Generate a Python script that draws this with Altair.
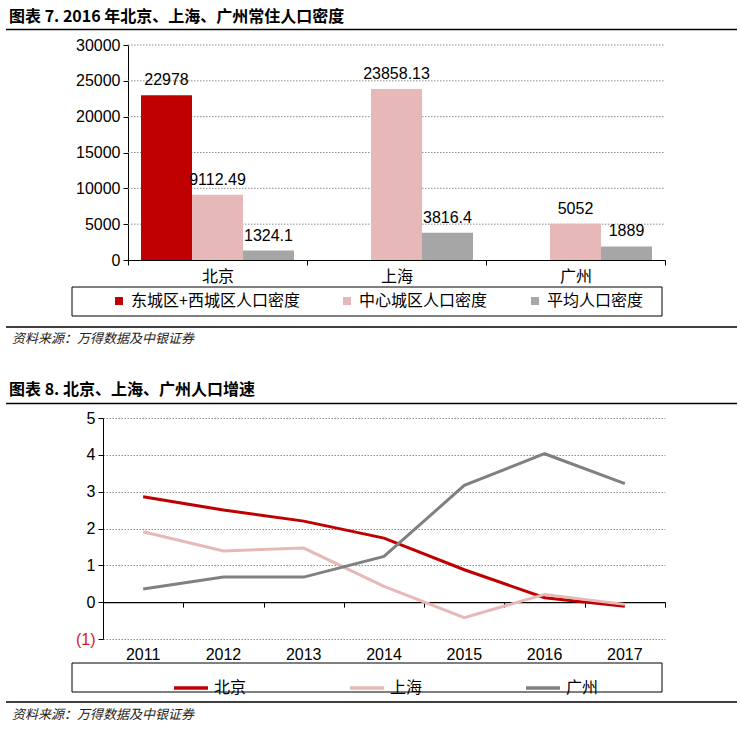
import altair as alt
import pandas as pd

# ---------------- data: chart 7 ----------------
cities = ['北京', '上海', '广州']
series7 = ['东城区+西城区人口密度', '中心城区人口密度', '平均人口密度']
core_density = [22978, None, None]
central_density = [9112.49, 23858.13, 5052]
average_density = [1324.1, 3816.4, 1889]
density_ticks = [0, 5000, 10000, 15000, 20000, 25000, 30000]
colors7 = ['#C00000', '#E6B9B8', '#A6A6A6']

# ---------------- data: chart 8 ----------------
years = ['2011', '2012', '2013', '2014', '2015', '2016', '2017']
cities8 = ['北京', '上海', '广州']
growth_bj = [2.86, 2.50, 2.20, 1.74, 0.88, 0.12, -0.11]
growth_sh = [1.91, 1.39, 1.47, 0.43, -0.42, 0.21, -0.06]
growth_gz = [0.36, 0.68, 0.68, 1.24, 3.17, 4.03, 3.22]
growth_ticks = [-1, 0, 1, 2, 3, 4, 5]
colors8 = ['#C00000', '#E6B9B8', '#808080']

title7 = '图表 7. 2016 年北京、上海、广州常住人口密度'
title8 = '图表 8. 北京、上海、广州人口增速'
source_text = '资料来源：万得数据及中银证券'

# ---------------- tables ----------------
rows7 = []
for s, vals in zip(series7, [core_density, central_density, average_density]):
    for c, v in zip(cities, vals):
        if v is not None:
            rows7.append({'city': c, 'series': s, 'value': v, 'label': str(v)})
df7 = pd.DataFrame(rows7)
grid7 = pd.DataFrame({'value': density_ticks[1:]})

rows8 = []
for c, vals in zip(cities8, [growth_bj, growth_sh, growth_gz]):
    for y, v in zip(years, vals):
        rows8.append({'city': c, 'year': y, 'growth': v})
df8 = pd.DataFrame(rows8)

one = pd.DataFrame({'k': [0]})

NUM = 'Liberation Sans Narrow, Arial Narrow, Liberation Sans, Arial'
CJK = 'Noto Sans CJK SC'
W = 562
H1 = 215
H2 = 221
OFF = 25


def deco(df_, x, y, txt, **kw):
    return alt.Chart(df_).mark_text(align='left', baseline='middle', **kw).encode(
        x=alt.value(x), y=alt.value(y), text=alt.value(txt))


def hrule(x1, x2, y):
    return alt.Chart(one).mark_rule(color='black', strokeWidth=1.5).encode(
        x=alt.value(x1), x2=alt.value(x2), y=alt.value(y))


# ================= chart 7 =================
yscale1 = alt.Scale(domain=[0, 30000], nice=False)
xscale1 = alt.Scale(domain=cities, range=[OFF, W], paddingInner=0, paddingOuter=0)
xoff1 = alt.XOffset('series:N', scale=alt.Scale(domain=series7, paddingInner=0, paddingOuter=0.255))

x1 = alt.X('city:N', scale=xscale1, axis=alt.Axis(
    title=None, labelAngle=0, domainColor='black', domainWidth=1, tickColor='black',
    tickSize=5, tickBand='extent', labelFont=CJK, labelFontSize=16, labelColor='black',
    labelPadding=3, grid=False))
y1 = alt.Y('value:Q', scale=yscale1, axis=alt.Axis(
    title=None, values=density_ticks, offset=-OFF, domainColor='black', tickColor='black',
    tickSize=5, labelFont=NUM, labelFontSize=16, labelColor='black', labelPadding=3,
    grid=False, format='d'))

bg1 = alt.Chart(one).mark_rect(color='white', opacity=0).encode(
    x=alt.value(-103), x2=alt.value(637), y=alt.value(-45), y2=alt.value(325))

grid1 = alt.Chart(grid7).mark_rule(
    color='#8c8c8c', strokeDash=[1.5, 1.5], strokeWidth=1).encode(
    y=y1, x=alt.value(OFF), x2=alt.value(W))

bars = alt.Chart(df7).mark_bar().encode(
    x=x1, xOffset=xoff1, y=y1,
    color=alt.Color('series:N', scale=alt.Scale(domain=series7, range=colors7),
                    legend=alt.Legend(title=None, orient='none', legendX=8, legendY=248,
                                      direction='horizontal', symbolType='square',
                                      symbolSize=64, symbolStrokeWidth=0, symbolOpacity=1,
                                      labelFont=CJK, labelFontSize=16, labelColor='black',
                                      labelLimit=400, labelOffset=4, columnPadding=39,
                                      padding=0)))

labels7 = alt.Chart(df7).mark_text(baseline='alphabetic', dy=-10, font=NUM, fontSize=16,
                                   color='black').encode(
    x=x1, xOffset=xoff1, y=y1, text='label:N')

box1 = alt.Chart(one).mark_rect(filled=False, color='black', strokeWidth=1).encode(
    x=alt.value(-31), x2=alt.value(559), y=alt.value(242), y2=alt.value(271))

layer1 = alt.layer(
    bg1, grid1, bars, labels7, box1,
    deco(one, -94, -28.5, title7, font=CJK, fontSize=16, fontWeight='bold', color='black'),
    hrule(-97, 634, -15.5),
    hrule(-97, 634, 282),
    deco(one, -91, 294, source_text, font=CJK, fontSize=13, fontStyle='italic', color='#222222'),
).properties(width=W, height=H1)

# ================= chart 8 =================
yscale2 = alt.Scale(domain=[-1, 5], nice=False)
xscale2 = alt.Scale(type='band', domain=years, paddingInner=0, paddingOuter=0)

y2 = alt.Y('growth:Q', scale=yscale2, axis=alt.Axis(
    title=None, values=growth_ticks, domainColor='black', tickColor='black', tickSize=5,
    labelFont=NUM, labelFontSize=16, labelPadding=3,
    labelColor=alt.condition('datum.value < 0', alt.value('#D9152A'), alt.value('black')),
    labelExpr="datum.value < 0 ? '(' + abs(datum.value) + ')' : datum.label",
    grid=True, gridColor='#8c8c8c', gridDash=[1.5, 1.5], gridWidth=1))

bg2 = alt.Chart(one).mark_rect(color='white', opacity=0).encode(
    x=alt.value(-103), x2=alt.value(637), y=alt.value(-48), y2=alt.value(315))

lines = alt.Chart(df8).mark_line(strokeWidth=3).encode(
    x=alt.X('year:N', scale=xscale2, axis=alt.Axis(
        orient='bottom', title=None, labelAngle=0, domain=False, ticks=False, tickSize=0,
        labelFont=NUM, labelFontSize=16, labelColor='black', labelPadding=7, grid=False)),
    y=y2,
    color=alt.Color('city:N', scale=alt.Scale(domain=cities8, range=colors8),
                    legend=alt.Legend(title=None, orient='none', legendX=69, legendY=251,
                                      direction='horizontal', symbolType='stroke',
                                      symbolSize=1156, symbolStrokeWidth=3.5,
                                      labelFont=CJK, labelFontSize=16, labelColor='black',
                                      labelOffset=4, columnPadding=96, padding=0)))

zero_axis = alt.Chart(df8).mark_point(opacity=0).encode(
    x=alt.X('year:N', scale=xscale2, axis=alt.Axis(
        orient='bottom', title=None, labels=False, domainColor='black', domainWidth=1.2,
        tickColor='black', tickSize=5, tickBand='extent', offset=-H2 / 6, grid=False)),
    y=y2)

box2 = alt.Chart(one).mark_rect(filled=False, color='black', strokeWidth=1).encode(
    x=alt.value(-31), x2=alt.value(559), y=alt.value(245), y2=alt.value(274))

layer2 = alt.layer(
    bg2, lines, zero_axis, box2,
    deco(one, -94, -28, title8, font=CJK, fontSize=16, fontWeight='bold', color='black'),
    hrule(-97, 634, -14.5),
    hrule(-97, 634, 284),
    deco(one, -91, 297, source_text, font=CJK, fontSize=13, fontStyle='italic', color='#222222'),
).resolve_axis(x='independent').properties(width=W, height=H2)

chart = alt.vconcat(layer1, layer2, spacing=0).resolve_scale(
    color='independent').properties(padding=0).configure_view(strokeWidth=0)

chart.save('out.html', embed_options={'renderer': 'svg', 'actions': False})
